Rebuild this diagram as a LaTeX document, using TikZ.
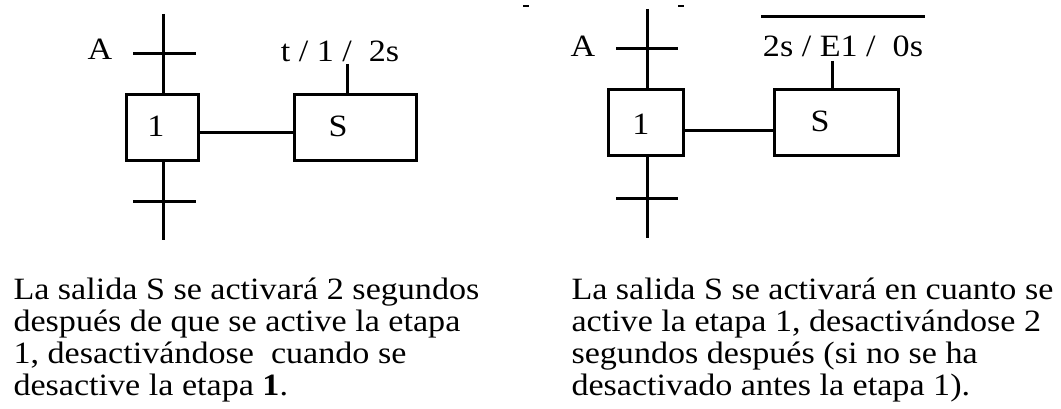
\documentclass[tikz,border=0pt]{standalone}
\usepackage{fontspec}
\setmainfont[FakeStretch=1.1]{Liberation Serif}
\usetikzlibrary{positioning}

\begin{document}
\begin{tikzpicture}[x=1pt, y=-1pt, line width=3pt,
    every node/.style={font=\fontsize{31}{32}\selectfont, inner sep=0pt},
    stepbox/.style={draw, minimum width=72pt, minimum height=66pt},
    actbox/.style={draw, minimum width=122pt, minimum height=66pt}]
    \useasboundingbox (0,0) rectangle (1061,409);

    % Left chart: delayed action
    \coordinate (topL) at (163,14);
    \coordinate (botL) at (163,240);
    \node[stepbox] (stepL) at (162.5,127.5) {};
    \node[actbox] (outL) at (355.5,127.5) {};
    \node[anchor=base] (numL) at (156,137) {1};
    \node[anchor=base] (sL) at (338,137) {S};
    \draw (topL) -- (stepL.north -| topL);
    \draw (stepL.south -| botL) -- (botL);
    \draw (133,54) -- (196,54);
    \draw (133,202) -- (196,202);
    \node[anchor=base] (aL) at (100,60) {A};
    \draw ([yshift=-5.5pt]stepL.east) -- ([yshift=-5.5pt]stepL.east -| outL.west);
    \node[anchor=base] (lblL) at (340,62) {t / 1 / \ 2s};
    \coordinate (pinL) at (347,64);
    \draw (pinL) -- (pinL |- outL.north);

    % Right chart: limited action
    \coordinate (topR) at (647,9);
    \coordinate (botR) at (647,238);
    \node[stepbox, minimum width=75pt] (stepR) at (646,123) {};
    \node[actbox, minimum width=124pt] (outR) at (836.5,123) {};
    \node[anchor=base] (numR) at (641,135) {1};
    \node[anchor=base] (sR) at (820,132) {S};
    \draw (topR) -- (stepR.north -| topR);
    \draw (stepR.south -| botR) -- (botR);
    \draw (616,49) -- (678,49);
    \draw (616,199) -- (678,199);
    \node[anchor=base] (aR) at (583,57) {A};
    \draw ([yshift=-8pt]stepR.east) -- ([yshift=-8pt]stepR.east -| outR.west);
    \node[anchor=base] (lblR) at (843,57) {2s / E1 / \ 0s};
    \draw ([yshift=18pt]lblR.north west) -- ([yshift=18pt]lblR.north east);
    \coordinate (pinR) at (832,61);
    \draw (pinR) -- (pinR |- outR.north);

    % scan marks
    \draw[line width=1.5pt] (523,6) -- (529,6);
    \draw[line width=1.5pt] (678,6) -- (684,6);

    % descriptions
    \node[anchor=north west, align=left] (descL) at (12,276)
        {La salida S se activará 2 segundos\\
         después de que se active la etapa\\
         1, desactivándose \ cuando se\\
         desactive la etapa \textbf{1}.};
    \node[anchor=north west, align=left] (descR) at (570,276)
        {La salida S se activará en cuanto se\\
         active la etapa 1, desactivándose 2\\
         segundos después (si no se ha\\
         desactivado antes la etapa 1).};
\end{tikzpicture}
\end{document}
